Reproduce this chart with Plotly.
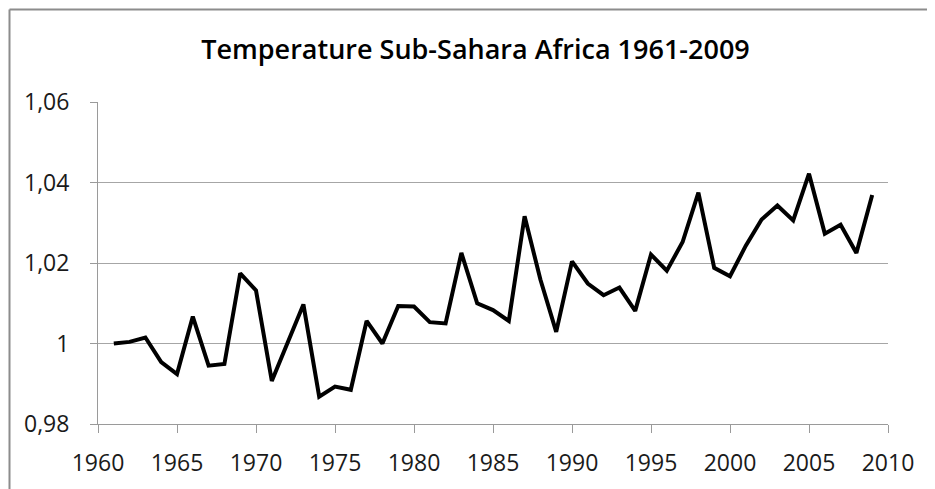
import plotly.graph_objects as go

years = list(range(1961, 2010))
temperature = [
    1.0000, 1.0004, 1.0015, 0.9954, 0.9924, 1.0067, 0.9945, 0.9949, 1.0174, 1.0132,
    0.9907, 1.0004, 1.0097, 0.9868, 0.9893, 0.9885, 1.0056, 1.0000, 1.0093, 1.0092,
    1.0053, 1.0050, 1.0225, 1.0100, 1.0083, 1.0056, 1.0316, 1.0159, 1.0029, 1.0204,
    1.0149, 1.0120, 1.0139, 1.0081, 1.0221, 1.0181, 1.0252, 1.0375, 1.0188, 1.0167,
    1.0243, 1.0308, 1.0343, 1.0306, 1.0422, 1.0273, 1.0295, 1.0225, 1.0369,
]
y_tickvals = [0.98, 1.00, 1.02, 1.04, 1.06]
y_ticktext = ["0,98", "1", "1,02", "1,04", "1,06"]
x_tickvals = list(range(1960, 2011, 5))
title_text = "Temperature Sub-Sahara Africa 1961-2009"

# page body has an 8px margin, so the figure is drawn 8px in from the window edge
OFF = 8
W, H = 935 - OFF, 489 - OFF
L, R, T, B = 98 - OFF, 935 - 888, 102 - OFF, 489 - 424
pw, ph = W - L - R, H - T - B

def px_x(p):
    return (p - OFF - L) / pw

def px_y(p):
    return (H - B - (p - OFF)) / ph

fig = go.Figure()
fig.add_trace(go.Scatter(
    x=years, y=temperature, mode="lines",
    line=dict(color="black", width=4), hoverinfo="skip", showlegend=False,
))

font = "Open Sans, Lato, sans-serif"
fig.update_layout(
    width=W, height=H,
    margin=dict(l=L, r=R, t=T, b=B),
    paper_bgcolor="white", plot_bgcolor="white",
    font=dict(family=font, color="#1a1a1a", size=23),
    title=dict(text=title_text, x=px_x(475.5), xref="paper", xanchor="center",
               y=1 - (50 - OFF) / H, yref="container", yanchor="middle",
               font=dict(family=font, size=27, color="black", weight=600)),
    xaxis=dict(range=[1960, 2010], tickvals=x_tickvals, showgrid=False,
               showline=True, linecolor="#9a9a9a", linewidth=1,
               ticks="outside", ticklen=8, tickcolor="#9a9a9a", tickwidth=1,
               ticklabelstandoff=10, zeroline=False,
               tickfont=dict(size=23)),
    yaxis=dict(range=[0.98, 1.06], tickvals=y_tickvals, ticktext=y_ticktext,
               showgrid=True, gridcolor="#a6a6a6", gridwidth=1,
               showline=True, linecolor="#9a9a9a", linewidth=1,
               ticks="outside", ticklen=7, tickcolor="#9a9a9a", tickwidth=1,
               ticklabelstandoff=16, zeroline=False,
               tickfont=dict(size=23)),
    shapes=[
        dict(type="line", xref="paper", yref="paper",
             x0=px_x(9.5), x1=px_x(935 + 5), y0=px_y(9.5), y1=px_y(9.5),
             line=dict(color="#8c8c8c", width=2)),
        dict(type="line", xref="paper", yref="paper",
             x0=px_x(9.5), x1=px_x(9.5), y0=px_y(9.5), y1=px_y(489 + 5),
             line=dict(color="#8c8c8c", width=2)),
    ],
)

fig.write_html("out.html")
